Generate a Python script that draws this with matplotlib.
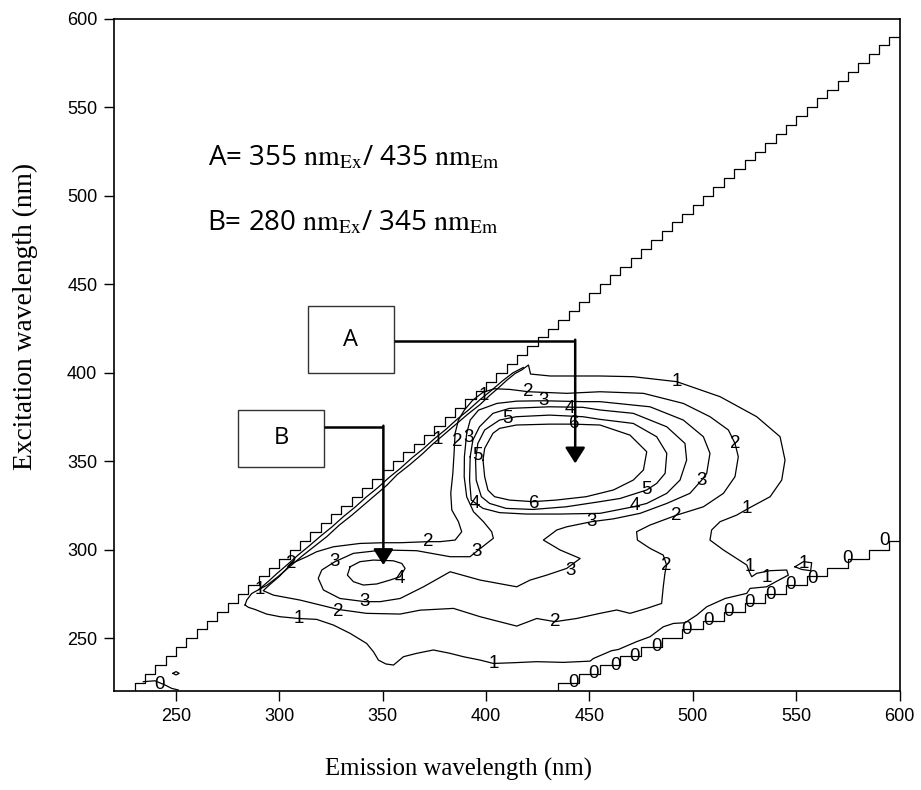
import matplotlib
matplotlib.use("Agg")
import numpy as np
import matplotlib.pyplot as plt
from matplotlib.patches import Rectangle

# Excitation sampling grid (nm) used for the scatter boundaries
ex_grid_upper = np.arange(220, 595, 5)
ex_grid_lower = np.arange(220, 310, 5)

# Traced contour lines, (emission nm, excitation nm)
contour_6 = [(398.5, 350.7), (399.3, 357.3), (403.3, 365.8), (406.5, 368.6), (414.6, 370.5),
             (430.7, 371.0), (441.9, 371.0), (455.1, 370.5), (469.6, 364.8), (477.7, 355.4),
             (476.1, 345.1), (471.2, 339.4), (461.6, 333.8), (448.4, 330.0), (433.9, 328.1),
             (422.6, 327.2), (411.3, 328.1), (404.1, 330.0), (400.9, 333.7), (399.3, 341.3),
             (398.5, 350.7)]

contour_5 = [(394.9, 350.7), (396.0, 360.1), (399.3, 367.7), (406.5, 373.3), (414.6, 375.2),
             (430.7, 376.1), (446.8, 375.2), (455.1, 373.7), (471.2, 371.4), (482.5, 363.9),
             (487.4, 354.5), (486.6, 343.2), (482.5, 337.5), (477.7, 333.8), (464.8, 329.0),
             (455.1, 327.2), (438.7, 324.3), (422.6, 322.8), (409.7, 323.4), (401.7, 326.2),
             (397.7, 330.0), (395.2, 339.4), (394.9, 350.7)]

contour_4a = [(392.3, 352.6), (393.6, 362.0), (396.8, 369.5), (403.3, 377.1), (411.3, 379.9),
              (430.7, 380.8), (446.8, 380.5), (455.1, 379.0), (471.2, 377.1), (487.4, 369.5),
              (496.2, 360.1), (497.0, 350.7), (493.8, 339.4), (487.4, 331.9), (477.7, 326.2),
              (471.2, 324.3), (455.1, 320.6), (435.5, 320.2), (419.4, 320.2), (406.5, 321.0),
              (398.5, 323.4), (392.8, 328.1), (392.0, 339.4), (392.3, 352.6)]

contour_4b = [(334.2, 290.4), (332.9, 285.7), (335.8, 282.0), (340.6, 280.1), (347.1, 280.7),
              (353.5, 282.9), (358.4, 284.8), (360.8, 289.5), (359.2, 292.3), (355.1, 293.8),
              (345.5, 294.2), (339.0, 293.3), (334.2, 290.4)]

contour_3 = [(390.6, 365.8), (392.3, 373.3), (396.3, 378.9), (405.2, 382.7), (414.8, 384.0),
             (427.8, 384.2), (447.1, 383.7), (455.1, 383.7), (479.3, 380.8), (495.4, 373.3),
             (505.1, 363.9), (508.3, 354.5), (506.7, 343.2), (504.3, 339.4), (498.6, 331.9),
             (487.4, 326.2), (474.5, 320.6), (461.6, 317.5), (451.1, 315.9), (439.0, 313.0),
             (434.2, 311.2), (427.7, 305.5), (435.8, 299.9), (445.5, 295.1), (439.0, 289.5),
             (429.3, 285.7), (421.3, 282.9), (414.8, 279.1), (397.1, 282.9), (382.6, 287.6),
             (369.7, 279.1), (358.4, 272.5), (348.7, 270.7), (341.4, 270.7), (329.3, 272.5),
             (321.3, 277.3), (318.8, 283.9), (320.5, 288.6), (326.9, 293.3), (335.8, 298.0),
             (350.3, 299.9), (366.4, 299.5), (382.6, 296.1), (392.2, 296.1), (400.3, 303.6),
             (403.5, 306.5), (402.7, 310.2), (398.7, 315.9), (393.9, 321.5), (390.6, 330.0),
             (389.4, 341.3), (389.5, 352.6), (390.6, 365.8)]

contour_2 = [(305.9, 292.3), (313.2, 296.1), (318.0, 298.9), (326.1, 301.7), (339.0, 303.6),
             (350.3, 304.0), (358.4, 304.0), (372.1, 304.6), (377.7, 304.6), (385.0, 305.5),
             (388.2, 310.2), (386.6, 315.9), (383.4, 322.5), (382.9, 331.9), (383.9, 343.2),
             (384.5, 354.5), (385.0, 365.8), (386.6, 373.3), (389.5, 379.0), (393.5, 384.5),
             (398.5, 389.0), (404.0, 391.0), (411.6, 390.6), (420.5, 389.3), (439.0, 388.4),
             (455.1, 389.3), (476.1, 388.4), (495.4, 382.7), (508.3, 375.2), (517.2, 367.7),
             (520.4, 360.1), (522.0, 352.6), (520.4, 341.3), (514.8, 331.9), (505.1, 324.3),
             (492.2, 319.6), (479.3, 314.0), (472.8, 310.2), (473.2, 305.5), (479.3, 300.8),
             (485.7, 297.0), (487.3, 291.4), (486.5, 286.7), (485.7, 279.1), (484.9, 269.7),
             (477.7, 266.9), (469.6, 264.1), (463.2, 266.0), (455.1, 264.1), (443.8, 261.2),
             (433.3, 259.4), (424.5, 261.2), (414.8, 256.9), (397.1, 262.2), (384.2, 266.9),
             (368.1, 265.9), (358.4, 263.7), (342.2, 264.1), (328.5, 266.3), (310.0, 271.6),
             (297.1, 274.4), (292.2, 276.9), (295.5, 280.5), (300.0, 285.0), (305.9, 292.3)]

contour_1 = [(283.4, 268.8), (285.0, 267.5), (288.2, 266.3), (293.8, 263.7), (300.3, 262.2),
             (309.2, 261.2), (318.0, 260.7), (326.1, 257.5), (334.2, 252.8), (342.2, 247.1),
             (345.5, 242.4), (347.9, 237.7), (351.5, 235.5), (355.2, 234.9), (360.0, 239.6),
             (366.4, 241.5), (374.5, 243.4), (382.6, 241.5), (389.0, 239.6), (397.1, 237.7),
             (403.5, 235.8), (413.2, 236.2), (424.5, 236.8), (437.4, 236.4), (450.3, 237.1),
             (451.9, 238.6), (460.7, 243.0), (464.0, 243.7), (472.8, 248.1), (479.3, 250.9),
             (485.7, 256.5), (490.6, 258.4), (496.2, 258.8), (501.9, 263.1), (506.7, 267.8),
             (515.6, 272.5), (526.1, 275.4), (527.7, 278.2), (535.7, 279.1), (541.0, 282.5),
             (546.2, 285.7), (545.4, 288.6), (537.3, 288.2), (530.9, 286.7), (528.5, 284.8),
             (527.3, 287.6), (526.1, 291.4), (521.2, 295.1), (514.8, 299.9), (508.3, 305.5),
             (509.1, 311.2), (513.2, 315.9), (521.2, 319.6), (526.9, 323.4), (537.4, 330.0),
             (543.0, 339.4), (544.6, 350.7), (542.2, 363.9), (530.9, 375.2), (513.2, 386.5),
             (492.2, 395.0), (471.2, 397.8), (455.1, 398.2), (431.0, 398.2), (421.5, 399.3),
             (420.5, 404.4), (417.2, 401.6), (414.0, 399.6), (410.0, 395.8), (406.0, 391.5),
             (402.0, 387.5), (397.0, 382.0), (391.0, 376.5), (386.0, 371.5), (380.0, 365.5),
             (374.0, 359.5), (369.0, 354.0), (363.0, 348.0), (357.0, 342.5), (352.0, 336.5),
             (347.0, 331.5), (341.0, 325.5), (335.0, 319.5), (329.0, 314.0), (323.0, 307.5),
             (317.0, 302.0), (311.0, 296.5), (305.0, 290.5), (299.0, 284.5), (294.0, 280.0),
             (290.0, 277.5), (286.6, 275.3), (284.2, 271.6), (283.4, 268.8)]

# second line hugging the scatter edge
contour_1_edge = [(290.0, 277.5), (294.5, 282.0), (299.0, 286.8), (304.0, 291.8), (309.0, 297.0),
                  (314.5, 302.3), (320.0, 307.8), (325.5, 313.0), (331.0, 318.8), (336.5, 324.0),
                  (342.0, 329.8), (347.5, 335.0), (353.0, 340.8), (358.5, 346.0), (364.0, 351.8),
                  (369.5, 357.0), (375.0, 362.8), (380.5, 368.0), (386.0, 373.8), (391.5, 379.0),
                  (397.0, 384.8), (402.5, 390.0), (408.0, 395.5), (413.0, 400.0), (418.0, 403.0)]

contour_1_island = [(549.4, 290.4), (553.5, 293.3), (557.5, 292.7), (557.0, 288.2),
                    (552.7, 288.9), (549.4, 290.4)]

contour_0_corner = [(234.2, 225.5), (239.8, 226.0), (244.7, 223.6), (247.9, 221.7), (251.1, 220.8)]
contour_0_dot = [(248.5, 230.2), (250.0, 231.2), (251.5, 230.2), (250.0, 229.3), (248.5, 230.2)]

# Contour label positions: (level, emission, excitation)
contour_labels = [
    ("6", 442.7, 371.4), ("6", 423.4, 325.9),
    ("5", 410.5, 374.2), ("5", 396.0, 353.5), ("5", 477.4, 333.8),
    ("4", 440.3, 379.9), ("4", 394.4, 326.2), ("4", 471.7, 325.3), ("4", 358.4, 283.9),
    ("3", 427.8, 384.2), ("3", 391.5, 363.5), ("3", 504.4, 339.4), ("3", 451.1, 315.9),
    ("3", 440.6, 288.5), ("3", 395.5, 298.9), ("3", 341.4, 270.7), ("3", 326.9, 293.3),
    ("2", 420.5, 389.3), ("2", 385.8, 361.1), ("2", 520.4, 360.1), ("2", 492.2, 319.6),
    ("2", 487.3, 291.4), ("2", 433.3, 259.4), ("2", 328.5, 265.0), ("2", 372.1, 304.6),
    ("2", 305.9, 292.3),
    ("1", 492.2, 395.0), ("1", 526.1, 323.4), ("1", 527.7, 290.4), ("1", 536.0, 284.2),
    ("1", 309.2, 261.2), ("1", 403.5, 235.8), ("1", 376.5, 362.5), ("1", 398.7, 387.4),
    ("1", 290.6, 277.3), ("1", 553.8, 292.4),
    ("0", 241.9, 224.1), ("0", 442.2, 224.9), ("0", 451.9, 230.2), ("0", 462.4, 234.9),
    ("0", 472.0, 240.0), ("0", 482.2, 245.2), ("0", 497.0, 255.0), ("0", 507.5, 259.9),
    ("0", 517.5, 265.0), ("0", 527.4, 270.1), ("0", 537.4, 275.0), ("0", 547.4, 280.2),
    ("0", 558.0, 284.0), ("0", 574.9, 295.1), ("0", 592.7, 305.5),
]

# Peak markers: box (left, bottom, width, height), arrow elbow and tip
peak_names = ["A", "B"]
peak_boxes = [(313.7, 399.7, 41.8, 38.0), (280.1, 346.9, 41.5, 32.1)]
peak_arrow_y = [418.1, 369.5]
peak_arrow_x = [443.1, 350.3]
peak_arrow_tip = [348.8, 291.4]

peak_notes = [r"A= 355 $\mathrm{nm_{Ex}}$/ 435 $\mathrm{nm_{Em}}$",
              r"B= 280 $\mathrm{nm_{Ex}}$/ 345 $\mathrm{nm_{Em}}$"]
peak_note_pos = [(265.5, 517.4), (264.8, 480.7)]

x_ticks = [250, 300, 350, 400, 450, 500, 550, 600]
y_ticks = [250, 300, 350, 400, 450, 500, 550, 600]


def _line(ax, pts, lw=0.9):
    em, ex = zip(*pts)
    ax.plot(em, ex, color="black", lw=lw, solid_joinstyle="round", zorder=2)


def main():
    plt.rcParams["mathtext.fontset"] = "stix"
    fig = plt.figure(figsize=(9.21, 7.9), dpi=100)
    ax = fig.add_axes([0.1238, 0.1248, 0.9767 - 0.1238, 0.9762 - 0.1248])

    # Rayleigh scatter boundaries (first and second order)
    ax.step(ex_grid_upper + 10, ex_grid_upper, where="pre", color="black", lw=0.9, zorder=2)
    lower_em = np.append(2 * ex_grid_lower[:-1] - 5, 605)
    ax.step(lower_em, ex_grid_lower, where="pre", color="black", lw=0.9, zorder=2)

    for pts in [contour_6, contour_5, contour_4a, contour_4b, contour_3, contour_2,
                contour_1, contour_1_edge, contour_1_island, contour_0_corner, contour_0_dot]:
        _line(ax, pts)

    for txt, em, ex in contour_labels:
        ax.text(em, ex, txt, ha="center", va="center", fontsize=13.5,
                family="Liberation Sans", zorder=3)

    for name, (bx, by, bw, bh), ay, axx, tip in zip(peak_names, peak_boxes, peak_arrow_y,
                                                    peak_arrow_x, peak_arrow_tip):
        ax.add_patch(Rectangle((bx, by), bw, bh, facecolor="white", edgecolor="#333333",
                               lw=1.0, zorder=4))
        ax.text(bx + bw / 2, by + bh / 2, name, ha="center", va="center", fontsize=17,
                family="Open Sans", zorder=5)
        ax.plot([bx + bw, axx], [ay, ay], color="black", lw=1.8, zorder=4,
                solid_capstyle="butt")
        ax.annotate("", xy=(axx, tip), xytext=(axx, ay + 0.6),
                    arrowprops=dict(arrowstyle="-|>,head_length=0.6,head_width=0.38",
                                    lw=1.8, color="black", mutation_scale=16,
                                    shrinkA=0, shrinkB=0), zorder=4)

    for note, (nx, ny) in zip(peak_notes, peak_note_pos):
        ax.text(nx, ny, note, ha="left", va="baseline", fontsize=20, family="Open Sans")

    ax.set_xlim(220, 600)
    ax.set_ylim(220, 600)
    ax.set_xticks(x_ticks)
    ax.set_yticks(y_ticks)
    ax.tick_params(direction="out", length=7, width=1, labelsize=13, pad=5)
    for lab in ax.get_xticklabels() + ax.get_yticklabels():
        lab.set_family("Liberation Sans")
    for sp in ax.spines.values():
        sp.set_linewidth(1.2)

    ax.set_xlabel("Emission wavelength (nm)", fontsize=17.8, family="Liberation Serif")
    ax.set_ylabel("Excitation wavelength (nm)", fontsize=19.8, family="Liberation Serif")
    ax.xaxis.set_label_coords(0.438, -0.099)
    ax.yaxis.set_label_coords(-0.097, 0.558)

    fig.savefig("out.png", dpi=100)
    plt.close(fig)


if __name__ == "__main__":
    main()
